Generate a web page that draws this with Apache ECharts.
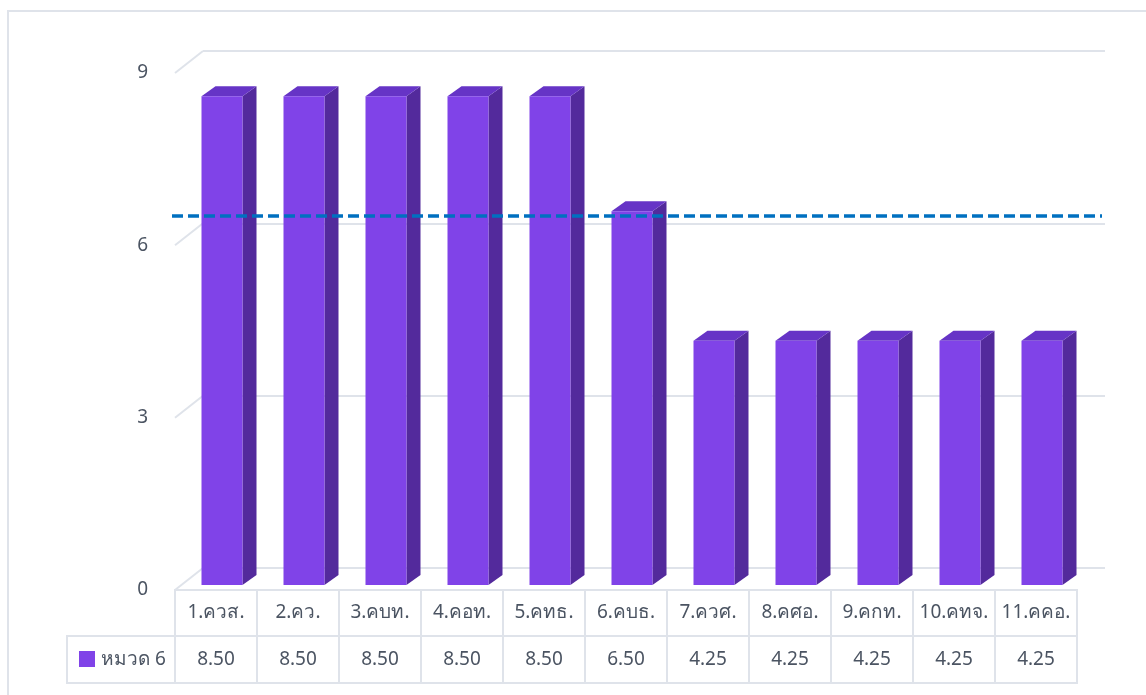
<!DOCTYPE html>
<html><head><meta charset="utf-8">
<script src="https://cdn.jsdelivr.net/npm/echarts@6/dist/echarts.min.js"></script>
<style>html,body{margin:0;padding:0;background:#fff}#c{width:1146px;height:695px}</style>
</head><body><div id="c"></div>
<script>
// ---- data ----
const categories = ['1.ควส.','2.คว.','3.คบท.','4.คอท.','5.คทธ.','6.คบธ.','7.ควศ.','8.คศอ.','9.คกท.','10.คทจ.','11.คคอ.'];
const values = [8.50, 8.50, 8.50, 8.50, 8.50, 6.50, 4.25, 4.25, 4.25, 4.25, 4.25];
const seriesName = 'หมวด 6';
const yMin = 0, yMax = 9, yInterval = 3;
const yTicks = [0, 3, 6, 9];
const referenceValue = 6.43;

// ---- styles ----
const FONT = "Tahoma, 'Noto Sans', 'DejaVu Sans', sans-serif";
const FS = 19;
const TEXT = '#4b5462';
const GRID = '#dfe3ea';
const FRONT = '#8043e8', TOPC = '#6634c6', SIDE = '#532a9c';
const DEPTH_X = 14, DEPTH_Y = -10;
const BACK_DX = 28, BACK_DY = -22;

const chart = echarts.init(document.getElementById('c'), null, {renderer: 'canvas'});

function axisPair(idx, showLabels, showSplit) {
  return {
    x: {type: 'category', gridIndex: idx, data: categories, show: false},
    y: {type: 'value', gridIndex: idx, min: yMin, max: yMax, interval: yInterval,
        axisLine: {show: false}, axisTick: {show: false},
        axisLabel: {show: showLabels, margin: 27, color: TEXT, fontSize: FS, fontFamily: FONT},
        splitLine: {show: showSplit, lineStyle: {color: GRID, width: 2}}}
  };
}
const a0 = axisPair(0, false, false); // bar plane
const a1 = axisPair(1, true, false);  // front plane
const a2 = axisPair(2, false, true);  // back wall
const a3 = axisPair(3, false, false); // reference line plane

function renderBar(params, api) {
  const i = api.value(0), v = api.value(1);
  const top = api.coord([i, v]);
  const base = api.coord([i, 0]);
  const bw = api.size([1, 0])[0] * 0.5;
  const x = top[0] - bw / 2, y = top[1], yb = base[1];
  return {type: 'group', children: [
    {type: 'polygon', shape: {points: [[x + bw, y], [x + bw + DEPTH_X, y + DEPTH_Y], [x + bw + DEPTH_X, yb + DEPTH_Y], [x + bw, yb]]}, style: {fill: SIDE}},
    {type: 'polygon', shape: {points: [[x, y], [x + DEPTH_X, y + DEPTH_Y], [x + bw + DEPTH_X, y + DEPTH_Y], [x + bw, y]]}, style: {fill: TOPC}},
    {type: 'rect', shape: {x: x, y: y, width: bw, height: yb - y}, style: {fill: FRONT}}
  ]};
}

function renderTick(params, api) {
  const y = api.coord([0, api.value(1)])[1];
  const x0 = params.coordSys.x;
  return {type: 'line', shape: {x1: x0, y1: y, x2: x0 + BACK_DX, y2: y + BACK_DY},
          style: {stroke: GRID, lineWidth: 2}};
}

const ROW1 = 46, ROW2 = 47;
function renderTable(params, api) {
  const i = params.dataIndex;
  const cx = api.coord([i, 0])[0];
  const w = api.size([1, 0])[0];
  const y0 = params.coordSys.y + params.coordSys.height;
  return {type: 'group', children: [
    {type: 'rect', shape: {x: cx - w / 2, y: y0, width: w, height: ROW1}, style: {fill: '#fff', stroke: GRID, lineWidth: 2}},
    {type: 'rect', shape: {x: cx - w / 2, y: y0 + ROW1, width: w, height: ROW2}, style: {fill: '#fff', stroke: GRID, lineWidth: 2}},
    {type: 'text', style: {text: categories[i], x: cx, y: y0 + ROW1 / 2, align: 'center', verticalAlign: 'middle', fill: TEXT, font: FS + 'px ' + FONT}},
    {type: 'text', style: {text: api.value(1).toFixed(2), x: cx, y: y0 + ROW1 + ROW2 / 2, align: 'center', verticalAlign: 'middle', fill: TEXT, font: FS + 'px ' + FONT}}
  ]};
}

const barData = values.map((v, i) => [i, v]);

chart.setOption({
  animation: false,
  backgroundColor: '#fff',
  grid: [
    {left: 181, right: 63, top: 67.5, bottom: 110},
    {left: 175, right: 69, top: 73, bottom: 105},
    {left: 203, right: 41, top: 51, bottom: 127},
    {left: 172, right: 44, top: 67.5, bottom: 110}
  ],
  xAxis: [a0.x, a1.x, a2.x, a3.x],
  yAxis: [a0.y, a1.y, a2.y, a3.y],
  graphic: [
    {type: 'rect', z: -10, shape: {x: 8, y: 11, width: 1200, height: 800}, style: {fill: 'none', stroke: GRID, lineWidth: 2}},
    {type: 'rect', z: 5, shape: {x: 67, y: 590 + ROW1, width: 108, height: ROW2}, style: {fill: '#fff', stroke: GRID, lineWidth: 2}},
    {type: 'rect', z: 6, shape: {x: 79, y: 651, width: 16, height: 16}, style: {fill: FRONT}},
    {type: 'text', z: 6, style: {text: seriesName, x: 101, y: 590 + ROW1 + ROW2 / 2, verticalAlign: 'middle', fill: TEXT, font: FS + 'px ' + FONT}}
  ],
  series: [
    {type: 'custom', name: 'ticks', xAxisIndex: 1, yAxisIndex: 1, data: yTicks.map(v => [0, v]), renderItem: renderTick, z: 1, silent: true},
    {type: 'custom', name: seriesName, xAxisIndex: 0, yAxisIndex: 0, data: barData, renderItem: renderBar, z: 3},
    {type: 'custom', name: 'table', xAxisIndex: 1, yAxisIndex: 1, data: barData, renderItem: renderTable, z: 4, silent: true},
    {type: 'line', name: 'ref', xAxisIndex: 3, yAxisIndex: 3, data: [], z: 10, silent: true,
     markLine: {silent: true, symbol: 'none', label: {show: false},
       lineStyle: {color: '#0070c0', width: 3.5, type: [11, 5]},
       data: [{yAxis: referenceValue}]}}
  ]
});
</script></body></html>
